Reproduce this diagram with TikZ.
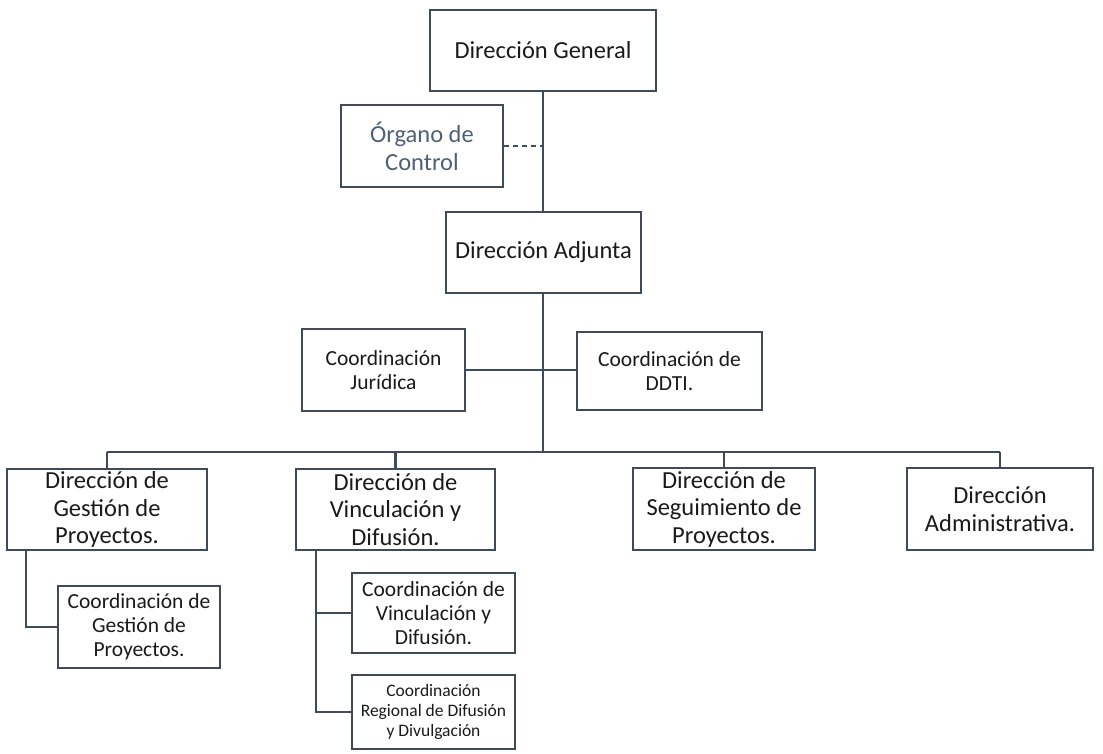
\documentclass[tikz,border=0pt]{standalone}
\usepackage{fontspec}
\setmainfont{Carlito}
\definecolor{linec}{HTML}{3F4A5A}
\definecolor{orgc}{HTML}{4F5F78}
\definecolor{txtc}{HTML}{1A1A1A}
\begin{document}
\begin{tikzpicture}[x=1pt,y=-1pt,
  box/.style={draw=linec, line width=2.2pt, rectangle, inner sep=0pt, align=center, text=txtc},
  big/.style={font=\fontsize{24.5}{28}\selectfont},
  low/.style={font=\fontsize{24.5}{27.5}\selectfont},
  coord/.style={font=\fontsize{21.5}{24}\selectfont},
  small/.style={font=\fontsize{17.5}{20}\selectfont},
  conn/.style={draw=linec, line width=2.2pt},
]
\useasboundingbox[fill=white] (0,0) rectangle (1103,753);

\node[box,big, minimum width=226pt, minimum height=81pt] (DG) at (543,50.5) {Dirección General};
\node[box,big, text=orgc, minimum width=162pt, minimum height=82pt] (ORG) at (422,146) {Órgano de\\Control};
\node[box,big, minimum width=195pt, minimum height=81pt] (ADJ) at (543.5,252.5) {Dirección Adjunta};
\node[box,coord, minimum width=163pt, minimum height=82pt] (CJ) at (383.5,370) {Coordinación\\Jurídica};
\node[box,coord, minimum width=185pt, minimum height=78pt] (DDTI) at (669.5,371) {Coordinación de\\DDTI.};

\node[box,low, minimum width=200pt, minimum height=81pt] (DGP) at (107,509.5) {Dirección de\\Gestión de\\Proyectos.};
\node[box,low, minimum width=199pt, minimum height=81pt] (DV) at (395.5,509.5) {Dirección de\\Vinculación y\\Difusión.};
\node[box,low, minimum width=182pt, minimum height=82pt] (DS) at (724,509) {Dirección de\\Seguimiento de\\Proyectos.};
\node[box,low, minimum width=186pt, minimum height=82pt] (DA) at (1000,509) {Dirección\\Administrativa.};

\node[box,coord, minimum width=162pt, minimum height=82pt] (CGP) at (139,627) {Coordinación de\\Gestión de\\Proyectos.};
\node[box,coord, minimum width=163pt, minimum height=80pt] (CVD) at (433.5,613) {Coordinación de\\Vinculación y\\Difusión.};
\node[box,small, minimum width=163pt, minimum height=74pt] (CRDD) at (433.5,712) {Coordinación\\Regional de Difusión\\y Divulgación};

\coordinate (bus) at (543,452);

\draw[conn] (DG.south) -- (ADJ.north -| DG.south);
\draw[conn, dashed, dash pattern=on 5pt off 4pt, line width=1.8pt] (ORG.east) -- (ORG.east -| DG.south);
\draw[conn] (ADJ.south -| DG.south) -- (bus);
\draw[conn] (CJ.east) -- (DDTI.west |- CJ.east);
\draw[conn] (DGP.north |- bus) -- (DA.north |- bus);
\foreach \n in {DGP,DV,DS,DA} \draw[conn] (\n.north |- bus) -- (\n.north);
\draw[conn] ([xshift=20pt]DGP.south west) |- (CGP.west);
\draw[conn] ([xshift=21pt]DV.south west) |- (CVD.west);
\draw[conn] ([xshift=21pt]DV.south west) |- (CRDD.west);
\end{tikzpicture}
\end{document}
